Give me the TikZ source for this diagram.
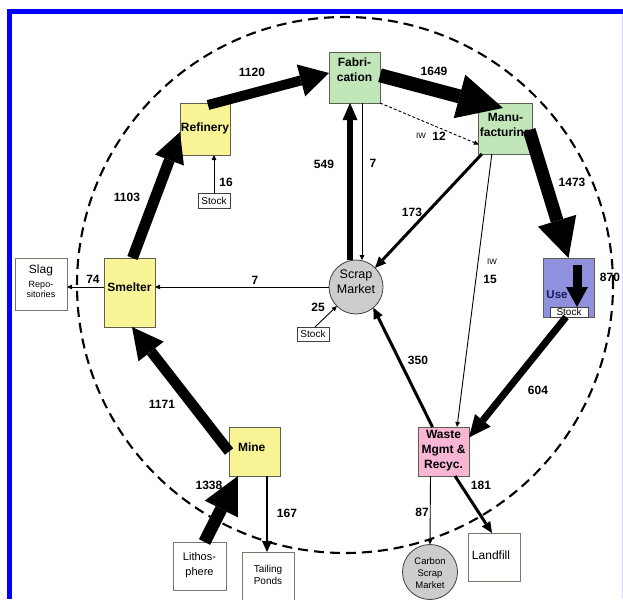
\documentclass[tikz,border=0pt]{standalone}
\usepackage{fontspec}
\setmainfont{Liberation Sans}
\usetikzlibrary{arrows.meta}
\newcommand{\liftby}[2]{\raisebox{#1}[\height][\depth]{#2}}
\newcommand{\stk}[1]{\begin{tabular}{@{}c@{}}#1\end{tabular}}
\definecolor{yel}{RGB}{249,245,150}
\definecolor{grn}{RGB}{192,230,186}
\definecolor{pnk}{RGB}{246,182,212}
\definecolor{usec}{RGB}{143,145,222}
\definecolor{scrapc}{RGB}{205,205,205}
\definecolor{frameblue}{RGB}{0,0,255}
\definecolor{edge}{RGB}{95,95,80}
\definecolor{navy}{RGB}{25,25,90}
\begin{document}
\begin{tikzpicture}[x=1pt,y=-1pt,
  box/.style={draw=edge, line width=0.8pt, inner sep=1pt, outer sep=0pt, font=\fontsize{12}{15}\selectfont\bfseries},
  ybox/.style={box, fill=yel},
  gbox/.style={box, fill=grn},
  pbox/.style={box, fill=pnk},
  wbox/.style={draw=edge!85, line width=0.7pt, fill=white, inner sep=1pt, outer sep=0pt},
  sbox/.style={draw=black!75, line width=0.7pt, fill=white, inner sep=0pt, outer sep=0pt, font=\fontsize{10}{10}\selectfont},
  num/.style={font=\fontsize{12}{14}\selectfont\bfseries, inner sep=0pt},
  iw/.style={font=\fontsize{8}{9}\selectfont, inner sep=0pt},
  thin/.style={line width=0.9pt, -{Triangle[length=5pt,width=4.5pt]}},
  mid/.style={line width=3pt, -{Triangle[length=11pt,width=10pt,line width=0pt]}},
  flow/.style n args={3}{line width=#1, -{Triangle[length=#2,width=#3,line width=0pt]}}
]
\useasboundingbox (0,0) rectangle (623,599);
\fill[white] (0,0) rectangle (623,599);
% frame
\fill[frameblue] (6.5,9) rectangle (623,14);
\fill[frameblue] (6.5,9) rectangle (12.3,599);
\draw[blue!15, line width=1pt] (622,14) -- (622,599);
% dashed system boundary
\draw[dash pattern=on 10pt off 6pt, line width=2.1pt] (345,285) circle[radius=268pt];

% process boxes
\node[ybox, minimum width=50pt, minimum height=52pt] (ref) at (205,129) {\liftby{1pt}{Refinery}};
\node[ybox, minimum width=51pt, minimum height=69pt] (smelt) at (129.5,292.5) {\liftby{5pt}{Smelter}};
\node[ybox, minimum width=51pt, minimum height=49pt] (mine) at (254.5,451.5) {\liftby{4.5pt}{\makebox[33pt][l]{Mine}}};
\node[gbox, minimum width=51pt, minimum height=51pt] (fab) at (354.5,77.5) {\liftby{6.5pt}{\stk{Fabri-\\cation}}};
\node[gbox, minimum width=51pt, minimum height=51pt] (manu) at (505.5,128.5) {\liftby{2pt}{\stk{Manu-\\facturing}}};
\node[pbox, minimum width=51pt, minimum height=49pt] (waste) at (443.5,451.5) {\liftby{1.5pt}{\stk{Waste\\Mgmt \&\\Recyc.}}};
\node[draw=edge, line width=0.8pt, fill=usec, minimum width=51pt, minimum height=59pt, inner sep=0pt, outer sep=0pt] (use) at (568.5,287.5) {};
\node[sbox, minimum width=38pt, minimum height=10pt] (ustock) at (569,312) {Stock};
\node[font=\fontsize{11.5}{13}\selectfont\bfseries, text=navy, inner sep=0pt] (uselbl) at (557,295) {Use};

% markets
\node[circle, draw=black!75, line width=0.8pt, fill=scrapc, minimum size=54pt, inner sep=0pt, outer sep=0pt, font=\fontsize{12.5}{15}\selectfont] (scrap) at (356,287) {\liftby{4pt}{\stk{Scrap\\Market}}};
\node[circle, draw=black!75, line width=0.8pt, fill=scrapc, minimum size=55pt, inner sep=0pt, outer sep=0pt, font=\fontsize{9.5}{12}\selectfont] (carbon) at (430,572) {\liftby{-2pt}{\stk{Carbon\\Scrap\\Market}}};

% outside boxes
\node[wbox, minimum width=52pt, minimum height=52pt, font=\fontsize{9}{10.5}\selectfont] (slag) at (41,284) {\liftby{1pt}{\stk{{\fontsize{12}{14}\selectfont Slag}\\[3pt]Repo-\\sitories}}};
\node[wbox, minimum width=53pt, minimum height=48pt, font=\fontsize{11}{15}\selectfont] (lith) at (199.5,566) {\liftby{1pt}{\stk{Lithos-\\phere}}};
\node[wbox, minimum width=52pt, minimum height=48pt, font=\fontsize{10}{12}\selectfont] (tail) at (268,576) {\stk{Tailing\\Ponds}};
\node[wbox, minimum width=52pt, minimum height=48pt, font=\fontsize{12}{14}\selectfont] (land) at (494,557) {\liftby{2pt}{Landfill\hspace*{6pt}}};
\node[sbox, minimum width=32pt, minimum height=15pt] (stock1) at (214,200.5) {Stock};
\node[sbox, minimum width=32pt, minimum height=14pt] (stock2) at (313,334) {Stock};

% big flows
\draw[flow={10pt}{29pt}{33pt}] ([xshift=3pt,yshift=-2pt]ref.north) -- (fab.170);
\draw[flow={14pt}{45pt}{45pt}] (fab.5) -- ([xshift=-2.5pt,yshift=-5pt]manu.north);
\draw[flow={13pt}{39pt}{40pt}] ([xshift=-3pt,yshift=-1.5pt]manu.east) -- (use.north);
\draw[flow={11pt}{30pt}{31pt}] ([xshift=3pt]smelt.north) -- ([yshift=-3pt]ref.west);
\draw[flow={10.5pt}{31pt}{32pt}] (mine.west) -- ([xshift=2.5pt]smelt.south);
\draw[flow={12.5pt}{37pt}{37pt}] ([xshift=5pt]lith.north) -- ([xshift=9pt]mine.south west);
\draw[flow={6pt}{17pt}{15pt}] ([xshift=-6pt]scrap.north) -- ([xshift=-4.5pt]fab.south);
\draw[flow={7pt}{22pt}{20pt}] ([xshift=-2.5pt]use.south) -- ([yshift=14pt]waste.east);
\draw[flow={9pt}{20pt}{22pt}] ([xshift=8.5pt,yshift=-7pt]use.north) -- ([xshift=8pt]ustock.north);
% medium flows
\draw[mid] ([xshift=3pt]manu.south west) -- (scrap.45);
\draw[mid] ([xshift=-11pt]waste.north) -- (scrap.-50);
\draw[mid] ([xshift=11.5pt]waste.south) -- ([xshift=-2pt]land.north);
\draw[mid, line width=2.5pt] ([xshift=12.5pt]mine.south) -- ([xshift=-1pt]tail.north);
% thin flows
\draw[thin] ([xshift=7.5pt]fab.south) -- ([xshift=6pt]scrap.north);
\draw[thin, dash pattern=on 3pt off 2pt] (fab.south east) -- ([yshift=-16pt]manu.west);
\draw[thin] ([xshift=13pt]manu.south west) -- ([xshift=13.5pt]waste.north);
\draw[thin] ([xshift=-13pt]waste.south) -- (carbon.north);
\draw[thin] ([yshift=5.5pt]smelt.west) -- ([yshift=-3pt]slag.east);
\draw[thin] (scrap.west) -- ([yshift=5.5pt]smelt.east);
\draw[thin] (stock1.north) -- ([xshift=9pt]ref.south);
\draw[thin] ([xshift=2pt]stock2.north) -- (scrap.225);

% labels
\node[num] (n1120) at (252,72) {1120};
\node[num] (n1649) at (434,71) {1649};
\node[num] (n1103) at (127,197) {1103};
\node[num] (n549) at (324,164) {549};
\node[num] (n7a) at (373,163) {7};
\node[num] (n16) at (226,182) {16};
\node[iw] (iw1) at (421,136) {IW};
\node[num] (n12) at (439,136) {12};
\node[num] (n173) at (412,212) {173};
\node[num] (n1473) at (572,182) {1473};
\node[num] (n74) at (93,279) {74};
\node[num] (n7b) at (255,280) {7};
\node[num] (n25) at (318,307) {25};
\node[iw] (iw2) at (492,262) {IW};
\node[num] (n15) at (490,279) {15};
\node[num] (n870) at (610,277) {870};
\node[num] (n350) at (418,360) {350};
\node[num] (n604) at (538,390) {604};
\node[num] (n1171) at (162,404) {1171};
\node[num] (n1338) at (209,485) {1338};
\node[num] (n167) at (287,513) {167};
\node[num] (n87) at (422,512) {87};
\node[num] (n181) at (481,485) {181};
\end{tikzpicture}
\end{document}
